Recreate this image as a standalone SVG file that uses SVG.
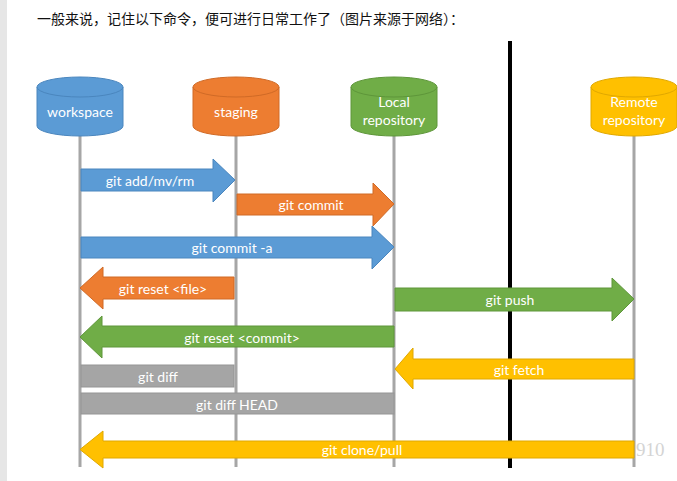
<svg xmlns="http://www.w3.org/2000/svg" width="677" height="481" viewBox="0 0 677 481">
<style>
.t{font-family:Lato,"Open Sans","Liberation Sans",sans-serif;font-size:14px;fill:#ffffff;text-anchor:middle;dominant-baseline:central}
.life{stroke:#a6a6a6;stroke-width:3;fill:none}
.blue{fill:#5b9bd5;stroke:#4a86be;stroke-width:1}
.orange{fill:#ed7d31;stroke:#d06a26;stroke-width:1}
.green{fill:#70ad47;stroke:#5e963a;stroke-width:1}
.gold{fill:#ffc000;stroke:#e0a800;stroke-width:1}
.gray{fill:#a5a5a5;stroke:#959595;stroke-width:1}
</style>
<rect x="0" y="0" width="677" height="481" fill="#ffffff"/>
<rect x="0" y="0" width="7" height="481" fill="#e6e6e6"/>
<text x="37" y="18" style="font-family:'Noto Sans CJK SC','Liberation Sans',sans-serif;font-size:14px;fill:#111;dominant-baseline:central">一般来说，记住以下命令，便可进行日常工作了（图片来源于网络）：</text>

<g id="lifelines">
<line class="life" x1="80" y1="136" x2="80" y2="467"/>
<line class="life" x1="236" y1="136" x2="236" y2="467"/>
<line class="life" x1="394" y1="136" x2="394" y2="467"/>
<line class="life" x1="634" y1="136" x2="634" y2="467"/>
<line x1="510" y1="41" x2="510" y2="468" stroke="#000" stroke-width="4"/>
</g>

<g id="workspace">
<path class="blue" d="M37,87 L37,126 A43,10 0 0 0 123,126 L123,87"/>
<ellipse class="blue" cx="80" cy="87" rx="43" ry="10"/>
<text class="t" x="80" y="111">workspace</text>
</g>
<g id="staging">
<path class="orange" d="M193,87 L193,126 A43,10 0 0 0 279,126 L279,87"/>
<ellipse class="orange" cx="236" cy="87" rx="43" ry="10"/>
<text class="t" x="236" y="111">staging</text>
</g>
<g id="local">
<path class="green" d="M351,87 L351,126 A43,10 0 0 0 437,126 L437,87"/>
<ellipse class="green" cx="394" cy="87" rx="43" ry="10"/>
<text class="t" x="394" y="101">Local</text>
<text class="t" x="394" y="119">repository</text>
</g>
<g id="remote">
<path class="gold" d="M591,87 L591,126 A43,10 0 0 0 677,126 L677,87"/>
<ellipse class="gold" cx="634" cy="87" rx="43" ry="10"/>
<text class="t" x="634" y="101">Remote</text>
<text class="t" x="634" y="119">repository</text>
</g>

<g id="connectors">
<g id="add">
<polygon class="blue" points="81,169 213,169 213,159 235,180 213,202 213,191 81,191"/>
<text class="t" x="150" y="180">git add/mv/rm</text>
</g>
<g id="commit">
<polygon class="orange" points="237,194 373,194 373,183 394,204 373,226 373,215 237,215"/>
<text class="t" x="311" y="204">git commit</text>
</g>
<g id="commit-a">
<polygon class="blue" points="81,237 372,237 372,226 394,247 372,269 372,258 81,258"/>
<text class="t" x="232" y="247">git commit -a</text>
</g>
<g id="reset-file">
<polygon class="orange" points="234,277 103,277 103,267 80,288 103,309 103,299 234,299"/>
<text class="t" x="163" y="288">git reset &lt;file&gt;</text>
</g>
<g id="push">
<polygon class="green" points="395,288 612,288 612,278 634,299 612,321 612,311 395,311"/>
<text class="t" x="510" y="299">git push</text>
</g>
<g id="reset-commit">
<polygon class="green" points="394,326 102,326 102,316 80,337 102,358 102,347 394,347"/>
<text class="t" x="242" y="337">git reset &lt;commit&gt;</text>
</g>
<g id="fetch">
<polygon class="gold" points="634,359 413,359 413,348 395,369 413,389 413,379 634,379"/>
<text class="t" x="519" y="369">git fetch</text>
</g>
<g id="diff">
<rect class="gray" x="81" y="365" width="153" height="22"/>
<text class="t" x="158" y="376">git diff</text>
</g>
<g id="diff-head">
<rect class="gray" x="81" y="393" width="313" height="21"/>
<text class="t" x="237" y="404">git diff HEAD</text>
</g>
<g id="clone">
<polygon class="gold" points="634,441 103,441 103,431 80,449.5 103,468 103,458 634,458"/>
<text class="t" x="362" y="449">git clone/pull</text>
</g>
</g>
<text x="636" y="449" style="font-family:'Liberation Serif',serif;font-size:19px;fill:#d4d4d4;dominant-baseline:central">910</text>
</svg>
